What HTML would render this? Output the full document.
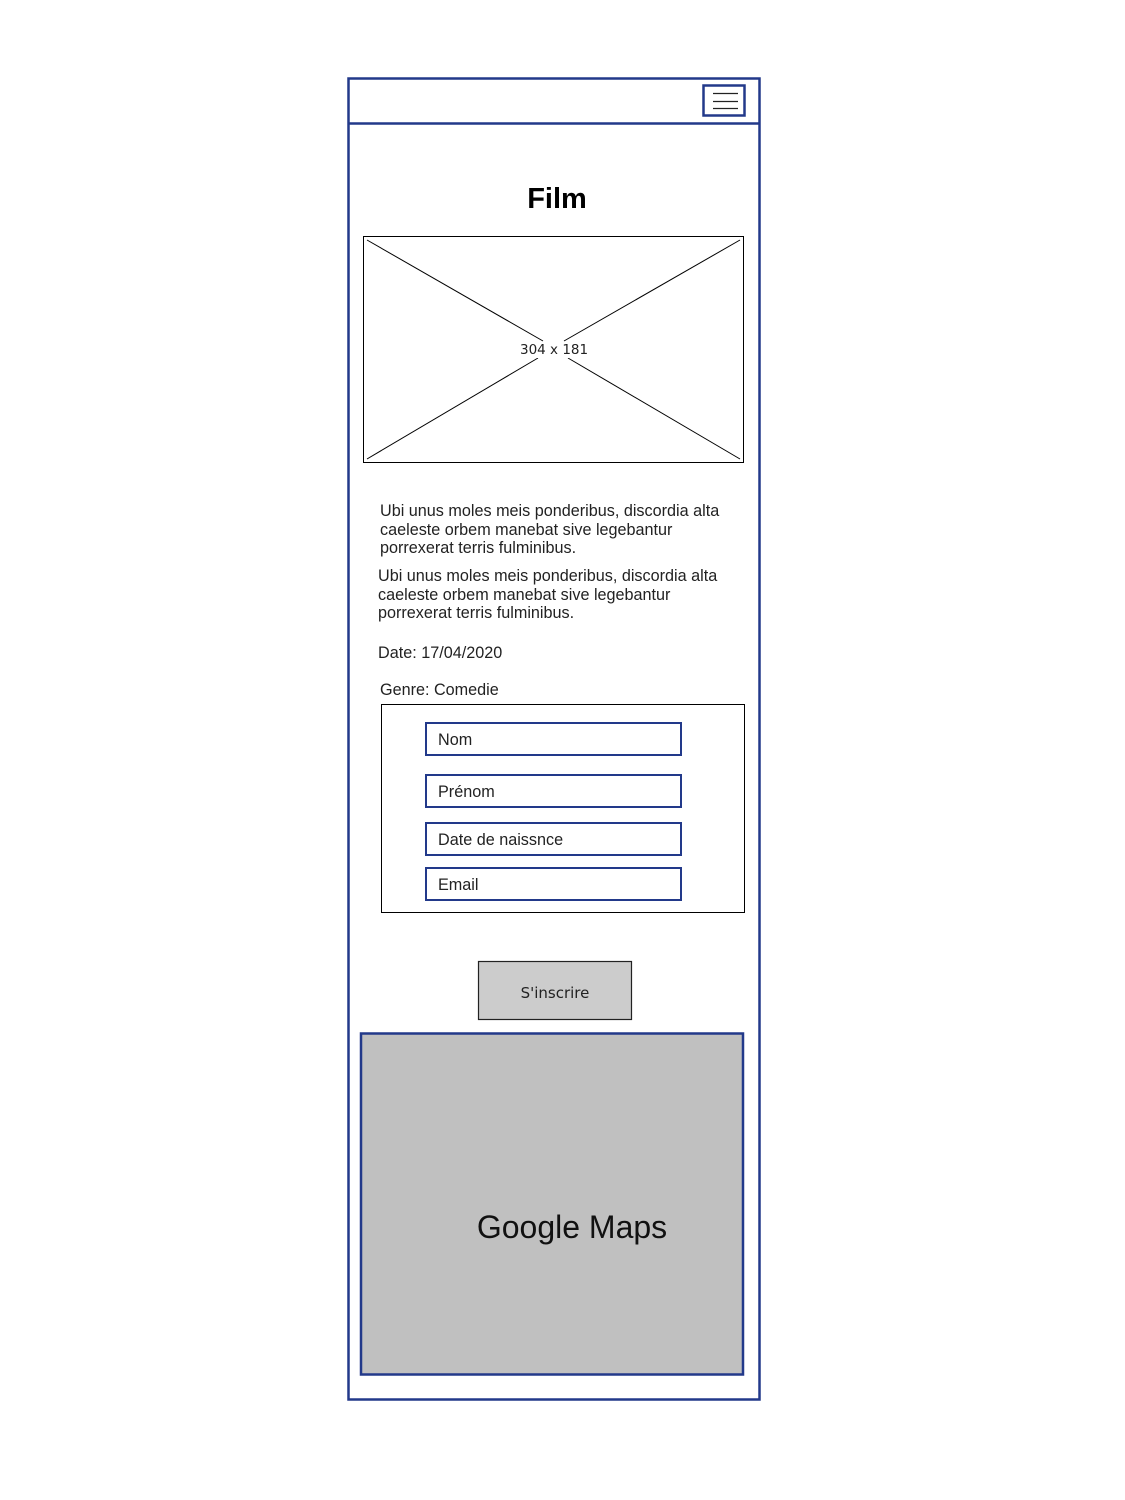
<!DOCTYPE html>
<html><head><meta charset="utf-8"><style>
html,body{margin:0;padding:0;background:#fff;}
body{width:1125px;height:1500px;position:relative;overflow:hidden;font-family:"Liberation Sans",Arial,sans-serif;}
.a{position:absolute;}
.t{font-size:16.2px;color:#222;line-height:18.5px;}
.in{position:absolute;left:425px;width:253px;height:30px;border:2px solid #22398a;box-sizing:content-box;font-size:16.2px;color:#222;line-height:33px;}
.in span{margin-left:11px;}
</style></head><body>
<svg class="a" style="left:0;top:0" width="1125" height="1500">
<rect x="348.5" y="78.5" width="411" height="1321" fill="#fff" stroke="#22398a" stroke-width="2.5"/>
<line x1="348" y1="123.5" x2="760" y2="123.5" stroke="#22398a" stroke-width="2.5"/>
<rect x="703.5" y="85.5" width="41" height="30" fill="#fff" stroke="#22398a" stroke-width="2.5"/>
<line x1="713" y1="93.5" x2="738" y2="93.5" stroke="#222" stroke-width="1.2"/>
<line x1="713" y1="101.5" x2="738" y2="101.5" stroke="#222" stroke-width="1.2"/>
<line x1="713" y1="108.5" x2="738" y2="108.5" stroke="#222" stroke-width="1.2"/>
<rect x="363.5" y="236.5" width="380" height="226" fill="#fff" stroke="#000" stroke-width="1"/>
<line x1="367" y1="240" x2="543" y2="341" stroke="#000"/>
<line x1="740" y1="240" x2="564" y2="341" stroke="#000"/>
<line x1="367" y1="459" x2="538" y2="358" stroke="#000"/>
<line x1="740" y1="459" x2="568" y2="358" stroke="#000"/>
<rect x="381.5" y="704.5" width="363" height="208" fill="#fff" stroke="#000" stroke-width="1"/>
<rect x="478.5" y="961.5" width="153" height="58" fill="#ccc" stroke="#222" stroke-width="1.2"/>
<rect x="361" y="1033.5" width="382" height="341" fill="#c0c0c0" stroke="#22398a" stroke-width="2.5"/>
</svg>
<div class="a" style="left:0;width:1114px;top:183px;text-align:center;font-weight:bold;font-size:29px;">Film</div>
<div class="a" style="left:519px;top:342px;font-family:'DejaVu Sans',sans-serif;background:#fff;padding:0 1px;color:#222;font-size:13.5px">304 x 181</div>
<div class="a t" style="left:380px;top:502px;">Ubi unus moles meis ponderibus, discordia alta<br>caeleste orbem manebat sive legebantur<br>porrexerat terris fulminibus.</div>
<div class="a t" style="left:378px;top:567px;">Ubi unus moles meis ponderibus, discordia alta<br>caeleste orbem manebat sive legebantur<br>porrexerat terris fulminibus.</div>
<div class="a t" style="left:378px;top:644px;">Date: 17/04/2020</div>
<div class="a t" style="left:380px;top:681px;">Genre: Comedie</div>
<div class="in" style="top:722px;"><span>Nom</span></div>
<div class="in" style="top:774px;"><span>Prénom</span></div>
<div class="in" style="top:822px;"><span>Date de naissnce</span></div>
<div class="in" style="top:867px;"><span>Email</span></div>
<div class="a" style="left:478px;width:154px;top:984px;text-align:center;font-size:15px;font-family:'DejaVu Sans',sans-serif;color:#222;">S'inscrire</div>
<div class="a" style="left:361px;width:422px;top:1209px;text-align:center;font-size:32px;color:#111;">Google Maps</div>
</body></html>
